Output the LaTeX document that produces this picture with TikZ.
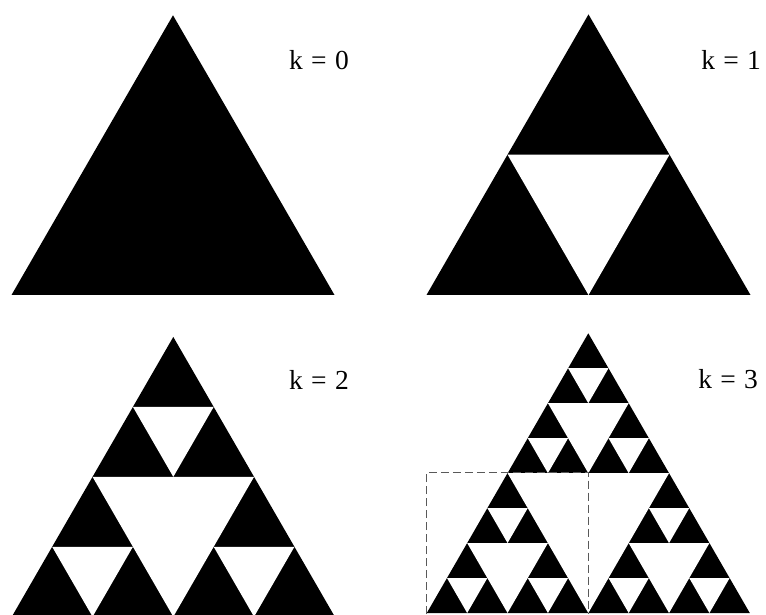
\documentclass[tikz,border=0pt]{standalone}
\usepackage{fontspec}
\setmainfont{Liberation Serif}
\makeatletter
% recursive holes: level, x (base left), y (base), side
\newcommand\sierholes[4]{%
  \ifnum#1>0
    \begingroup
    \pgfmathsetmacro\sh{#4/2}%
    \pgfmathsetmacro\sq{#4/4}%
    \pgfmathsetmacro\sxa{#2+\sh}%
    \pgfmathsetmacro\sxb{#2+\sq}%
    \pgfmathsetmacro\sxc{#2+3*\sq}%
    \pgfmathsetmacro\syb{#3+\sh*0.8660254}%
    \pgfmathtruncatemacro\slv{#1-1}%
    \fill[white] (\sxb,\syb) -- (\sxc,\syb) -- (\sxa,#3) -- cycle;
    \edef\snext{\noexpand\sierholes{\slv}{#2}{#3}{\sh}%
      \noexpand\sierholes{\slv}{\sxa}{#3}{\sh}%
      \noexpand\sierholes{\slv}{\sxb}{\syb}{\sh}}%
    \expandafter\endgroup\snext
  \fi}
\newcommand\sierp[4]{%
  \fill[black] (#2,#3) -- ++(#4,0) -- ++(120:#4) -- cycle;
  \sierholes{#1}{#2}{#3}{#4}}
\newcommand\klab[1]{k\hspace{0.3em}=\hspace{0.3em}#1}
\makeatother
\tikzset{klabel/.style={inner sep=0pt, font=\fontsize{27.5}{32}\selectfont}}
\begin{document}
\begin{tikzpicture}[x=1pt,y=1pt]
\useasboundingbox (0,0) rectangle (766,614);
\sierp{0}{11.5}{319}{323}
\sierp{1}{426.5}{319}{324}
\sierp{2}{11.8}{-2.7}{323}
\sierp{3}{426.8}{1}{323}
\draw[gray!70!black, line width=1pt, dash pattern=on 8pt off 4pt]
  (426.8,0) -- (426.8,142) -- (588.3,142) -- (588.3,0);
\node[klabel] (k0) at (319,554) {\klab{0}};
\node[klabel] (k1) at (731,554) {\klab{1}};
\node[klabel] (k2) at (319,234) {\klab{2}};
\node[klabel] (k3) at (728,235) {\klab{3}};
\end{tikzpicture}
\end{document}
